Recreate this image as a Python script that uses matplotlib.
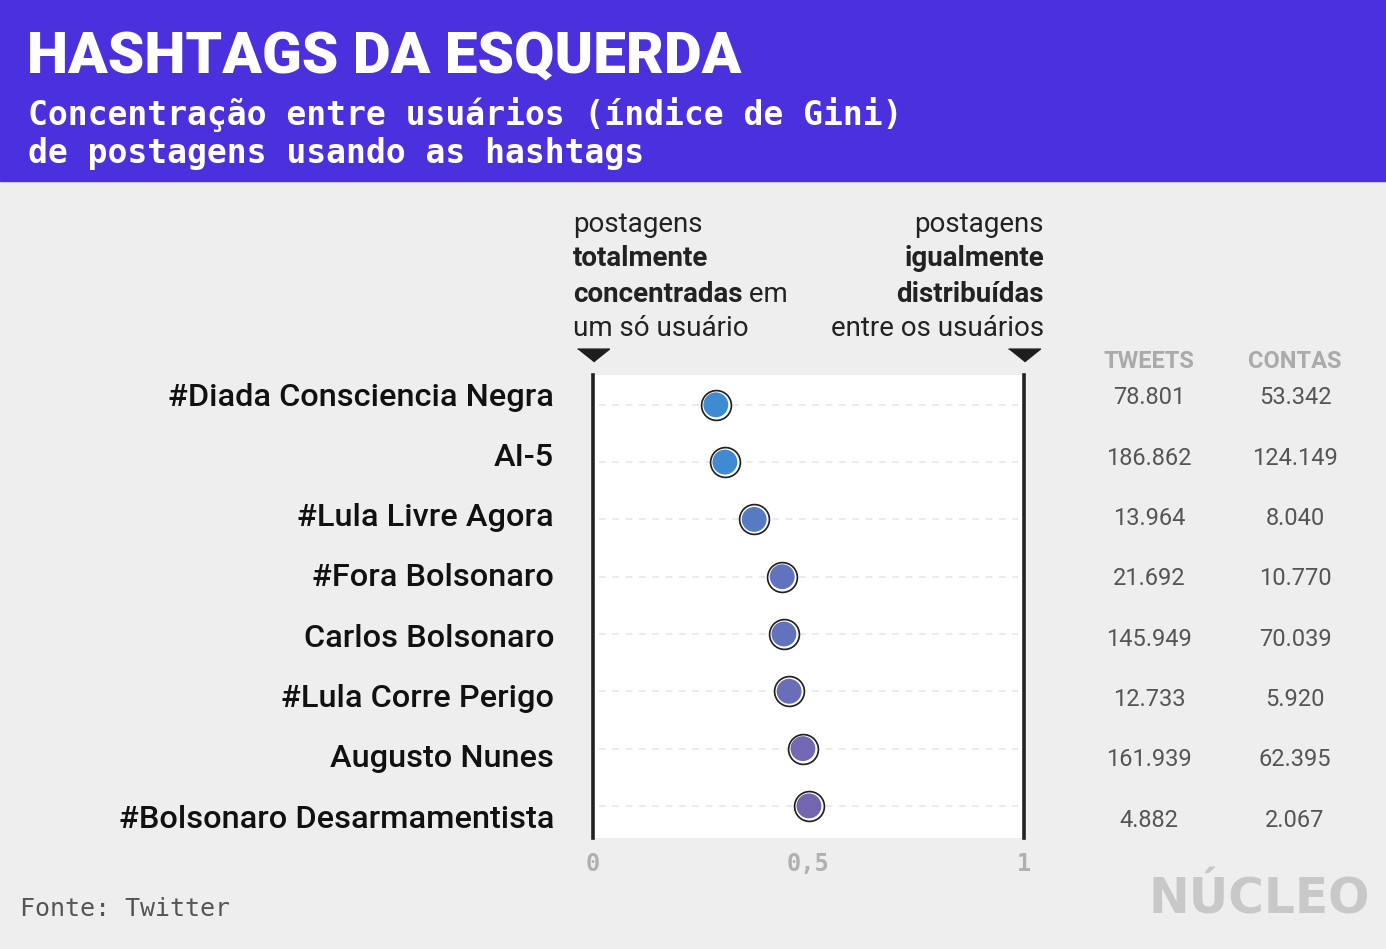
import matplotlib
matplotlib.use("Agg")
import matplotlib.pyplot as plt
from matplotlib.patches import Rectangle

# data
hashtags = ["#Diada Consciencia Negra", "AI-5", "#Lula Livre Agora", "#Fora Bolsonaro",
            "Carlos Bolsonaro", "#Lula Corre Perigo", "Augusto Nunes",
            "#Bolsonaro Desarmamentista"]
gini = [0.285, 0.306, 0.374, 0.439, 0.443, 0.455, 0.487, 0.501]
tweets = ["78.801", "186.862", "13.964", "21.692", "145.949", "12.733", "161.939", "4.882"]
contas = ["53.342", "124.149", "8.040", "10.770", "70.039", "5.920", "62.395", "2.067"]
dot_colors = ["#3f8bd2", "#4189d1", "#577bc2", "#6173bf", "#6272bd", "#6b6db8", "#7268b4", "#7465b0"]
xticks = [0, 0.5, 1]
xtick_labels = ["0", "0,5", "1"]

W, H = 1386, 949
BG = "#eeeeee"
PURPLE = "#4a31dd"


def px(x, y):
    return x / W, 1 - y / H


fig = plt.figure(figsize=(W / 100, H / 100), dpi=100, facecolor=BG)

# header band
fig.patches.append(Rectangle((0, 1 - 181 / H), 1, 181 / H, transform=fig.transFigure,
                             color=PURPLE, zorder=0))
fig.text(*px(27, 57), "HASHTAGS DA ESQUERDA", color="white", fontsize=42,
         family="Roboto", weight="black", va="center", ha="left")
fig.text(*px(28, 115), "Concentração entre usuários (índice de Gini)", color="white",
         fontsize=23.8, family="DejaVu Sans Mono", weight="bold", va="center")
fig.text(*px(28, 154), "de postagens usando as hashtags", color="white",
         fontsize=23.8, family="DejaVu Sans Mono", weight="bold", va="center")

# main axes
ax = fig.add_axes([593 / W, 1 - 838 / H, (1024 - 593) / W, (838 - 375) / H])
ax.set_facecolor("white")
ypos = list(range(len(hashtags)))
ax.set_xlim(0, 1)
ax.set_ylim(len(hashtags) - 1 + 0.56, -0.52)
for y in ypos:
    ax.axhline(y, color="#e6e6e6", lw=1.2, ls=(0, (4, 4)), xmin=0.015, xmax=0.985, zorder=1)
ax.axvline(0, color="#222222", lw=2.6, zorder=2, clip_on=False)
ax.axvline(1, color="#222222", lw=2.6, zorder=2, clip_on=False)
ax.scatter(gini, ypos, s=470, color="#1e1e1e", zorder=3)
ax.scatter(gini, ypos, s=370, color="white", zorder=4)
ax.scatter(gini, ypos, s=285, color=dot_colors, zorder=5)
for s in ax.spines.values():
    s.set_visible(False)
ax.set_yticks([])
ax.set_xticks(xticks)
ax.set_xticklabels(xtick_labels, family="DejaVu Sans Mono", weight="bold",
                   fontsize=17, color="#b0b0b0")
ax.tick_params(axis="x", length=0, pad=10)

# triangles marking the two extremes
tri = [(-1, 0.4), (1, 0.4), (0, -0.4)]
trans = ax.get_xaxis_transform()
ax.plot([0, 1], [1.043, 1.043], ls="none", marker=tri, ms=23, color="#1e1e1e",
        transform=trans, clip_on=False)

# annotations above the axes
ann_font = dict(family="Roboto", fontsize=20, color="#222222", va="center")
fig.text(*px(573, 224), "postagens", ha="left", **ann_font)
fig.text(*px(573, 259), "totalmente", ha="left", weight="bold", **ann_font)
t = fig.text(*px(573, 294), "concentradas", ha="left", weight="bold", **ann_font)
fig.text(*px(573, 329), "um só usuário", ha="left", **ann_font)
fig.text(*px(1044, 224), "postagens", ha="right", **ann_font)
fig.text(*px(1044, 259), "igualmente", ha="right", weight="bold", **ann_font)
fig.text(*px(1044, 294), "distribuídas", ha="right", weight="bold", **ann_font)
fig.text(*px(1044, 329), "entre os usuários", ha="right", **ann_font)
r = fig.canvas.get_renderer()
bb = t.get_window_extent(renderer=r)
fig.text(bb.x1 / W, 1 - 294 / H, " em", ha="left", **ann_font)

# labels on the left and numbers on the right
fig.text(*px(1149, 361), "TWEETS", ha="center", va="center", family="Roboto",
         weight="bold", fontsize=17, color="#aaaaaa")
fig.text(*px(1295, 361), "CONTAS", ha="center", va="center", family="Roboto",
         weight="bold", fontsize=17, color="#aaaaaa")
for i, name in enumerate(hashtags):
    yy = 397 + i * 60.3
    fig.text(*px(554, yy), name, ha="right", va="center", family="Roboto",
             weight="medium", fontsize=23.4, color="#111111")
    fig.text(*px(1149, yy + 1), tweets[i], ha="center", va="center", family="Roboto",
             fontsize=17, color="#555555")
    fig.text(*px(1295, yy + 1), contas[i], ha="center", va="center", family="Roboto",
             fontsize=17, color="#555555")

fig.text(*px(20, 909), "Fonte: Twitter", family="DejaVu Sans Mono", fontsize=18,
         color="#555555", va="center")
fig.text(*px(1370, 899), "NÚCLEO", family="DejaVu Sans", weight="bold", fontsize=35,
         color="#c8c8c8", ha="right", va="center")

fig.savefig("out.png", dpi=100, facecolor=BG)
